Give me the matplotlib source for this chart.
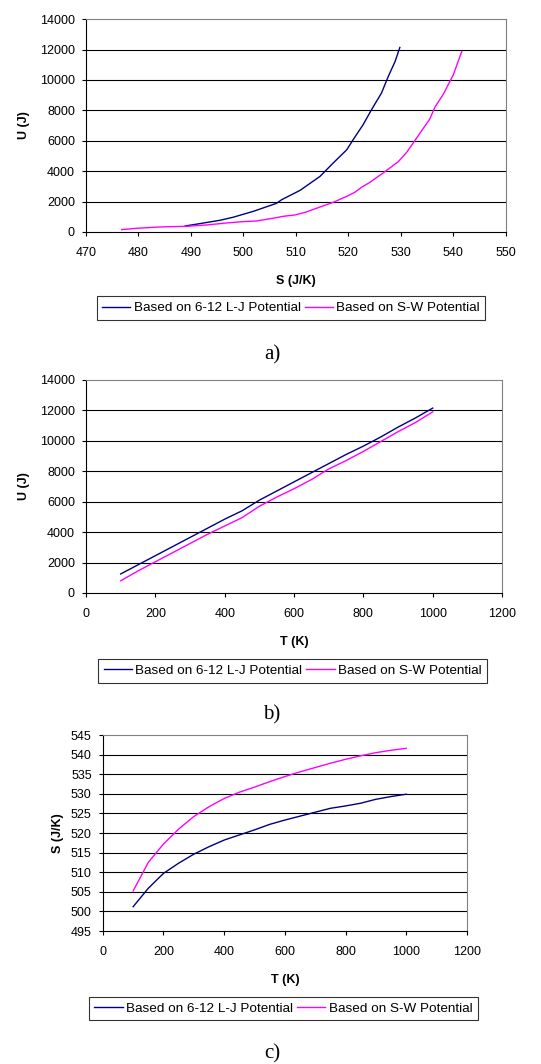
import matplotlib
matplotlib.use("Agg")
from matplotlib import pyplot as plt

# 图a: U vs S
s_lj_a = [488.9, 491.7, 495.5, 498.0, 501.9, 506.3, 507.3, 510.8, 514.6, 517.1,
          519.7, 520.9, 522.8, 524.4, 526.3, 527.6, 528.9, 529.8]
u_lj_a = [394, 548, 767, 964, 1358, 1884, 2125, 2739, 3659, 4535,
          5412, 6069, 7055, 8041, 9136, 10232, 11218, 12138]
s_sw_a = [476.8, 479.7, 484.1, 489.2, 493.0, 496.8, 500.0, 502.5, 506.3, 507.6,
          509.8, 512.0, 514.6, 517.1, 519.7, 521.2, 522.5, 524.1, 526.6, 529.5,
          531.1, 533.0, 535.5, 536.5, 538.1, 540.0, 541.6]
u_sw_a = [153, 241, 329, 372, 460, 592, 679, 723, 942, 1030,
          1117, 1315, 1643, 1950, 2344, 2607, 2936, 3265, 3878, 4623,
          5237, 6179, 7428, 8217, 9071, 10342, 11876]

# 图b, c: 温度
temp = [100, 150, 200, 250, 300, 350, 400, 450, 500, 550,
        600, 650, 700, 750, 800, 850, 900, 950, 1000]
u_lj = [1250, 1850, 2450, 3050, 3650, 4250, 4850, 5400, 6100, 6700,
        7300, 7900, 8500, 9100, 9650, 10250, 10900, 11500, 12150]
u_sw = [800, 1450, 2050, 2650, 3250, 3850, 4400, 4950, 5700, 6300,
        6850, 7450, 8150, 8700, 9300, 9950, 10600, 11200, 11900]
s_lj = [501.2, 505.9, 509.7, 512.3, 514.6, 516.5, 518.2, 519.5, 520.8, 522.2,
        523.3, 524.3, 525.3, 526.3, 526.9, 527.6, 528.6, 529.3, 529.9]
s_sw = [505.2, 512.5, 517.2, 521.0, 524.2, 526.7, 528.8, 530.4, 531.7, 533.1,
        534.4, 535.6, 536.7, 537.8, 538.8, 539.7, 540.5, 541.1, 541.6]

labels = ["Based on 6-12 L-J Potential", "Based on S-W Potential"]
blue = "#000080"
pink = "#ff00ff"

plt.rcParams['font.family'] = ['Liberation Sans', 'DejaVu Sans']
plt.rcParams['font.size'] = 9

fig = plt.figure(figsize=(5.41, 10.64), dpi=100)


def style_axes(axe, xt, yt):
    axe.set_xticks(xt)
    axe.set_yticks(yt)
    axe.set_xlim(xt[0], xt[-1])
    axe.set_ylim(yt[0], yt[-1])
    for y in yt[1:-1]:
        axe.axhline(y, color='black', lw=0.8, zorder=1)
    for side in ['top', 'right']:
        axe.spines[side].set_color('#808080')
    for side in ['left', 'bottom']:
        axe.spines[side].set_color('black')
    axe.tick_params(direction='out', length=3, width=0.8)
    axe.tick_params(axis='x', pad=8)
    axe.tick_params(axis='y', pad=5)


def make_legend(h, cx, cy):
    leg = fig.legend(h, labels, loc='center', bbox_to_anchor=(cx, cy), ncol=2,
                     frameon=True, fancybox=False, edgecolor='black',
                     handlelength=2.1, columnspacing=0.3, handletextpad=0.25,
                     borderpad=0.4, fontsize=9.7)
    leg.get_frame().set_linewidth(0.8)


def caption(txt, ypix):
    fig.text(0.503, 1 - ypix / 1064, txt, family='Liberation Serif', fontsize=15,
             ha='center', va='center')


# a)
axa = fig.add_axes([0.159, 0.782, 0.776, 0.2])
la, = axa.plot(s_lj_a, u_lj_a, color=blue, lw=1, zorder=3)
lb, = axa.plot(s_sw_a, u_sw_a, color=pink, lw=1, zorder=3)
style_axes(axa, list(range(470, 551, 10)), list(range(0, 14001, 2000)))
axa.set_xlabel("S (J/K)", fontweight='bold', labelpad=11)
axa.set_ylabel("U (J)", fontweight='bold', labelpad=7)
make_legend([la, lb], 0.538, 0.7105)
caption("a)", 355)

# b)
axb = fig.add_axes([0.159, 0.4427, 0.769, 0.2002])
la, = axb.plot(temp, u_lj, color=blue, lw=1, zorder=3)
lb, = axb.plot(temp, u_sw, color=pink, lw=1, zorder=3)
style_axes(axb, list(range(0, 1201, 200)), list(range(0, 14001, 2000)))
axb.set_xlabel("T (K)", fontweight='bold', labelpad=11)
axb.set_ylabel("U (J)", fontweight='bold', labelpad=7)
make_legend([la, lb], 0.541, 0.3694)
caption("b)", 715)

# c)
axc = fig.add_axes([0.190, 0.125, 0.673, 0.1842])
la, = axc.plot(temp, s_lj, color=blue, lw=1, zorder=3)
lb, = axc.plot(temp, s_sw, color=pink, lw=1, zorder=3)
style_axes(axc, list(range(0, 1201, 200)), list(range(495, 546, 5)))
axc.set_xlabel("T (K)", fontweight='bold', labelpad=11)
axc.set_ylabel("S (J/K)", fontweight='bold', labelpad=5)
make_legend([la, lb], 0.524, 0.0522)
caption("c)", 1054)

plt.savefig("out.png", dpi=100)
